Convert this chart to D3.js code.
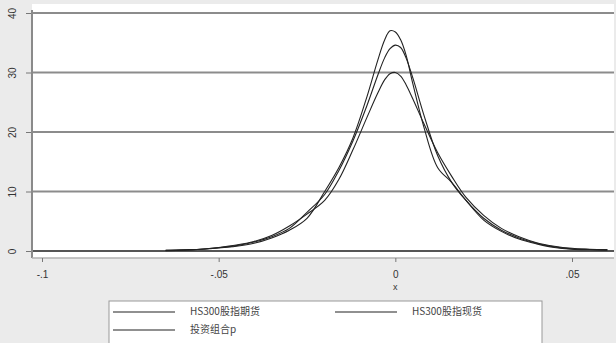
<!DOCTYPE html>
<html><head><meta charset="utf-8">
<script src="https://cdn.jsdelivr.net/npm/d3@7"></script>
<style>body{margin:0;background:#ebebeb;}svg{display:block;}</style>
</head><body>
<svg id="c" width="616" height="343"></svg>
<script>
const xs = [-0.065,-0.06,-0.055,-0.05,-0.045,-0.04,-0.035,-0.03,-0.025,-0.02,-0.016,-0.012,-0.008,-0.005,-0.003,-0.0015,0,0.0015,0.003,0.005,0.008,0.012,0.016,0.02,0.025,0.03,0.035,0.04,0.045,0.05,0.055,0.06];
const futures = [0.1,0.2,0.3,0.5,0.8,1.3,2.2,3.5,5.5,10,14,19,26,32,35.5,37,36.8,35.5,33,28,21,14,11.5,8.5,5.2,3.3,2.0,1.2,0.6,0.3,0.2,0.15];
const spot    = [0.05,0.15,0.3,0.55,0.9,1.5,2.4,3.8,6.5,9.5,13.5,18.5,24.5,29.5,32.5,34,34.6,34.2,32.5,29,23,16,11.5,8.5,5.5,3.5,2.2,1.3,0.7,0.35,0.25,0.2];
const portfolio = [0.1,0.15,0.3,0.6,1.0,1.6,2.6,4.2,6.2,8.5,12,17,22.5,26.5,28.8,29.8,30,29.4,28,25.5,21.5,16.5,12.5,9,6,3.8,2.4,1.4,0.8,0.45,0.3,0.2];
const seriesNames = ["HS300股指期货","HS300股指现货","投资组合p"];
const xTicks = [-0.1,-0.05,0,0.05];
const xTickLabels = ["-.1","-.05","0",".05"];
const yTicks = [0,10,20,30,40];

(function(){
const svg = d3.select("#c");
const pL=32,pR=614,pT=4,pB=258;
const x = d3.scaleLinear().domain([-0.1,0.05]).range([42,572]);
const y = d3.scaleLinear().domain([0,40]).range([251,13]);
const font = "'Liberation Sans','DejaVu Sans',Arial,sans-serif";
const cjk = "'Noto Sans CJK SC','Liberation Sans',sans-serif";

svg.append("rect").attr("x",pL).attr("y",pT).attr("width",pR-pL).attr("height",pB-pT).attr("fill","#fff");

svg.append("g").selectAll("line").data(yTicks).join("line")
  .attr("x1",pL).attr("x2",pR).attr("y1",d=>y(d)).attr("y2",d=>y(d))
  .attr("stroke",d=>d===0?"#555":"#8c8c8c").attr("stroke-width",2);

svg.append("line").attr("x1",pL).attr("x2",pL).attr("y1",pT+6).attr("y2",pB).attr("stroke","#8a8a8a").attr("stroke-width",2);
svg.append("line").attr("x1",pL).attr("x2",pR).attr("y1",pB).attr("y2",pB).attr("stroke","#b0b0b0").attr("stroke-width",1.5);

const yAxis = d3.axisLeft(y).tickValues(yTicks).tickSize(5).tickFormat(d3.format("d"));
const gy = svg.append("g").attr("transform",`translate(${pL-1},0)`).call(yAxis);
gy.select(".domain").remove();
gy.selectAll(".tick line").attr("stroke","#777");
gy.selectAll(".tick text").attr("font-family",font).attr("font-size",10).attr("fill","#333")
  .attr("text-anchor","middle").attr("x",0).attr("dy",0)
  .attr("transform","translate(-18,0) rotate(-90)").attr("dominant-baseline","middle");

const xAxis = d3.axisBottom(x).tickValues(xTicks).tickSize(4).tickFormat((d,i)=>xTickLabels[i]);
const gx = svg.append("g").attr("transform",`translate(0,${pB})`).call(xAxis);
gx.select(".domain").remove();
gx.selectAll(".tick line").attr("stroke","#777");
gx.selectAll(".tick text").attr("font-family",font).attr("font-size",10).attr("fill","#333").attr("y",13);

svg.append("text").attr("x",x(0)).attr("y",290).attr("text-anchor","middle")
  .attr("font-family",font).attr("font-size",9).attr("fill","#333").text("x");

const line = d3.line().x((d,i)=>x(xs[i])).y(d=>y(d)).curve(d3.curveCatmullRom.alpha(0.5));
[futures,spot,portfolio].forEach(s=>{
  svg.append("path").attr("d",line(s)).attr("fill","none").attr("stroke","#222").attr("stroke-width",1.1);
});

const lg = svg.append("g");
lg.append("rect").attr("x",109).attr("y",301).attr("width",433).attr("height",44).attr("fill","#fff").attr("stroke","#999").attr("stroke-width",1);
const items = [{x:113,y:312,t:seriesNames[0]},{x:335,y:312,t:seriesNames[1]},{x:113,y:330,t:seriesNames[2]}];
items.forEach(it=>{
  lg.append("line").attr("x1",it.x).attr("x2",it.x+62).attr("y1",it.y).attr("y2",it.y).attr("stroke","#222").attr("stroke-width",1.2);
  lg.append("text").attr("x",it.x+77).attr("y",it.y).attr("dominant-baseline","middle")
    .attr("font-family",cjk).attr("font-size",10).attr("fill","#444").text(it.t);
});
})();
</script>
</body></html>
